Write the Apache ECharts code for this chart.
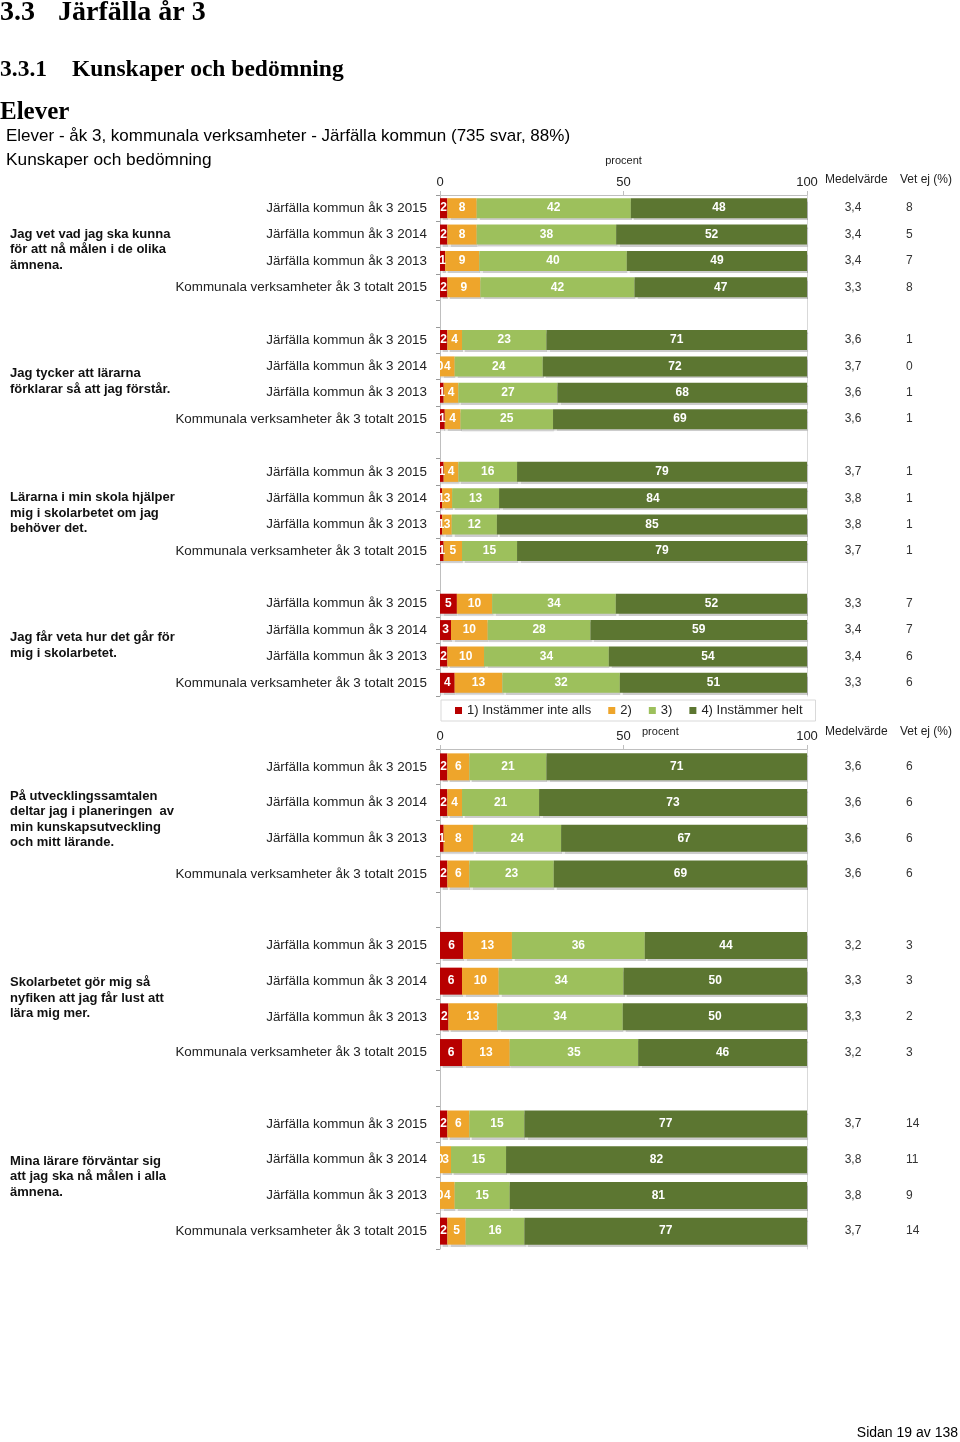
<!DOCTYPE html>
<html><head><meta charset="utf-8">
<script src="https://cdn.jsdelivr.net/npm/echarts@6/dist/echarts.min.js"></script>
<style>html,body{margin:0;padding:0;background:#fff}#c{width:960px;height:1442px}</style>
</head><body><div id="c"></div>
<script>
// ---------- DATA ----------
const responseNames = ['1) Instämmer inte alls', '2)', '3)', '4) Instämmer helt'];
const rowLabels = ['Järfälla kommun åk 3 2015', 'Järfälla kommun åk 3 2014', 'Järfälla kommun åk 3 2013', 'Kommunala verksamheter åk 3 totalt 2015'];
const questionsA = [
  'Jag vet vad jag ska kunna\nför att nå målen i de olika\nämnena.',
  'Jag tycker att lärarna\nförklarar så att jag förstår.',
  'Lärarna i min skola hjälper\nmig i skolarbetet om jag\nbehöver det.',
  'Jag får veta hur det går för\nmig i skolarbetet.'
];
const questionsB = [
  'På utvecklingssamtalen\ndeltar jag i planeringen  av\nmin kunskapsutveckling\noch mitt lärande.',
  'Skolarbetet gör mig så\nnyfiken att jag får lust att\nlära mig mer.',
  'Mina lärare förväntar sig\natt jag ska nå målen i alla\nämnena.'
];
// Panel A (rows per question: 2015, 2014, 2013, totalt 2015); shares in %, labels show rounded values
const a1 = [2, 2, 1.4, 2,   2, 0, 1, 1.3,   1, 0.6, 0.6, 1,   4.6, 3, 2, 4];
const a2 = [8, 8, 9.3, 9,   4, 4, 4, 4.3,   4, 2.7, 2.6, 5,   9.6, 10, 10, 13];
const a3 = [42, 38, 40.2, 42,   23, 24, 27, 25.2,   16, 12.8, 12.3, 15,   33.7, 28, 34, 32];
const a4 = [48, 52, 49.1, 47,   71, 72, 68, 69.2,   79, 83.9, 84.5, 79,   52.1, 59, 54, 51];
const aMean = ['3,4', '3,4', '3,4', '3,3',   '3,6', '3,7', '3,6', '3,6',   '3,7', '3,8', '3,8', '3,7',   '3,3', '3,4', '3,4', '3,3'];
const aVetEj = ['8', '5', '7', '8',   '1', '0', '1', '1',   '1', '1', '1', '1',   '7', '7', '6', '6'];
// Panel B
const b1 = [2, 2, 1, 2,   6.3, 6, 2.3, 6,   2, 0, 0, 2];
const b2 = [6, 4, 8, 6,   13.3, 10, 13.3, 13,   6, 3, 4, 5];
const b3 = [21, 21, 24, 23,   36.2, 34, 34.2, 35,   15, 15, 15, 16];
const b4 = [71, 73, 67, 69,   44.2, 50, 50.2, 46,   77, 82, 81, 77];
const bMean = ['3,6', '3,6', '3,6', '3,6',   '3,2', '3,3', '3,3', '3,2',   '3,7', '3,8', '3,8', '3,7'];
const bVetEj = ['6', '6', '6', '6',   '3', '3', '2', '3',   '14', '11', '9', '14'];
const xTickValues = [0, 50, 100];
const xAxisName = 'procent';
const colHeaders = ['Medelvärde', 'Vet ej (%)'];

// ---------- BUILD ----------
const SANS = '"Liberation Sans", Arial, sans-serif';
const SERIF = '"Liberation Serif", "DejaVu Serif", serif';
const colors = ['#B80000', '#EEA52B', '#9DC05C', '#5C7631'];
const GRAY = '#BFBFBF';

function slots(arr, blank) {
  const out = [];
  const groups = arr.length / 4;
  for (let g = 0; g < groups; g++) {
    for (let i = 0; i < 4; i++) out.push(arr[g * 4 + i]);
    if (g < groups - 1) out.push(blank);
  }
  return out;
}
const rowsA = slots([].concat(...questionsA.map(() => rowLabels)), '');
const rowsB = slots([].concat(...questionsB.map(() => rowLabels)), '');

function xAxisFor(gi) {
  return {
    gridIndex: gi, type: 'value', position: 'top', min: xTickValues[0], max: xTickValues[2], interval: xTickValues[1] - xTickValues[0],
    axisLine: { show: true, lineStyle: { color: GRAY } },
    axisTick: { show: true, length: 4, lineStyle: { color: GRAY } },
    splitLine: { show: false },
    axisLabel: { fontSize: 13, color: '#222', fontFamily: SANS, margin: 6 },
    name: gi === 0 ? xAxisName : '', nameLocation: 'middle', nameGap: 29,
    nameTextStyle: { fontSize: 11, color: '#222', fontFamily: SANS }
  };
}
function yAxesFor(gi, rows, mean, vet) {
  return [
    { gridIndex: gi, type: 'category', inverse: true, data: rows,
      axisLine: { show: true, lineStyle: { color: GRAY } },
      axisTick: { show: true, length: 4, interval: 0, lineStyle: { color: '#999' } },
      axisLabel: { interval: 0, fontSize: 13.4, color: '#222', fontFamily: SANS, margin: 13 } },
    { gridIndex: gi, type: 'category', inverse: true, position: 'right', data: slots(mean, ''),
      axisLine: { show: true, lineStyle: { color: '#D9D9D9' } }, axisTick: { show: false },
      axisLabel: { interval: 0, fontSize: 12, color: '#333', fontFamily: SANS, margin: 46, align: 'center' } },
    { gridIndex: gi, type: 'category', inverse: true, position: 'right', data: slots(vet, ''),
      axisLine: { show: false }, axisTick: { show: false },
      axisLabel: { interval: 0, fontSize: 12, color: '#333', fontFamily: SANS, margin: 99, align: 'left' } }
  ];
}
function seriesFor(gi, yIdx, vals, barW) {
  return vals.map((v, k) => ({
    type: 'bar', name: responseNames[k], stack: 'p' + gi, xAxisIndex: gi, yAxisIndex: yIdx,
    data: slots(v, null), barWidth: barW,
    itemStyle: { color: colors[k], shadowColor: 'rgba(0,0,0,0.2)', shadowBlur: 1, shadowOffsetX: 1, shadowOffsetY: 2 },
    label: { show: true, position: 'inside', color: '#fff', fontWeight: 'bold', fontSize: 12, fontFamily: SANS,
      formatter: p => (p.value == null ? '' : String(Math.round(p.value))) },
    emphasis: { disabled: true }, animation: false
  }));
}

function txt(x, y, text, font, align, fill) {
  return { type: 'text', x: x, y: y, silent: true,
    style: { text: text, font: font, fill: fill || '#000', align: align || 'left', verticalAlign: 'middle',
      textAlign: align || 'left', textVerticalAlign: 'middle' } };
}
const staticGraphics = [
  txt(0, 13, '3.3', 'bold 28px ' + SERIF),
  txt(58, 13, 'Järfälla år 3', 'bold 28px ' + SERIF),
  txt(0, 70, '3.3.1', 'bold 23.5px ' + SERIF),
  txt(72, 70, 'Kunskaper och bedömning', 'bold 23.5px ' + SERIF),
  txt(0, 113, 'Elever', 'bold 25px ' + SERIF),
  txt(6, 136, 'Elever - åk 3, kommunala verksamheter - Järfälla kommun (735 svar, 88%)', '17px ' + SANS, 'left', '#000'),
  txt(6, 160, 'Kunskaper och bedömning', '17.3px ' + SANS, 'left', '#000'),
  txt(825, 180, colHeaders[0], '12px ' + SANS, 'left', '#222'),
  txt(900, 180, colHeaders[1], '12px ' + SANS, 'left', '#222'),
  txt(642, 732, xAxisName, '11px ' + SANS, 'left', '#222'),
  txt(825, 732, colHeaders[0], '12px ' + SANS, 'left', '#222'),
  txt(900, 732, colHeaders[1], '12px ' + SANS, 'left', '#222'),
  txt(958, 1433, 'Sidan 19 av 138', '14px ' + SANS, 'right', '#000')
];

const chart = echarts.init(document.getElementById('c'), null, { renderer: 'canvas' });
const option = {
  backgroundColor: '#fff',
  animation: false,
  grid: [
    { left: 440, top: 195, width: 367, height: 501 },
    { left: 440, top: 749, width: 367, height: 500 }
  ],
  xAxis: [xAxisFor(0), xAxisFor(1)],
  yAxis: yAxesFor(0, rowsA, aMean, aVetEj).concat(yAxesFor(1, rowsB, bMean, bVetEj)),
  legend: {
    data: responseNames, left: 441, top: 700, orient: 'horizontal',
    padding: [4, 13, 4, 14], itemGap: 17, itemWidth: 7, itemHeight: 7, icon: 'rect',
    borderColor: '#D9D9D9', borderWidth: 1,
    textStyle: { fontSize: 13, color: '#222', fontFamily: SANS },
    selectedMode: false
  },
  series: seriesFor(0, 0, [a1, a2, a3, a4], 20).concat(seriesFor(1, 3, [b1, b2, b3, b4], 27)),
  graphic: staticGraphics
};
chart.setOption(option);

// question texts centred on each group, via the category axes
function groupCenter(yAxisIndex, g) {
  const p1 = chart.convertToPixel({ yAxisIndex: yAxisIndex }, g * 5 + 1);
  const p2 = chart.convertToPixel({ yAxisIndex: yAxisIndex }, g * 5 + 2);
  return (p1 + p2) / 2;
}
const qGraphics = [];
questionsA.forEach((q, g) => {
  qGraphics.push({ type: 'text', x: 10, y: groupCenter(0, g) + 2, silent: true,
    style: { text: q, font: 'bold 13px ' + SANS, fill: '#111', lineHeight: 15.5, verticalAlign: 'middle', textVerticalAlign: 'middle' } });
});
questionsB.forEach((q, g) => {
  qGraphics.push({ type: 'text', x: 10, y: groupCenter(3, g) - 1, silent: true,
    style: { text: q, font: 'bold 13px ' + SANS, fill: '#111', lineHeight: 15.5, verticalAlign: 'middle', textVerticalAlign: 'middle' } });
});
chart.setOption({ graphic: staticGraphics.concat(qGraphics) });
</script>
</body></html>
